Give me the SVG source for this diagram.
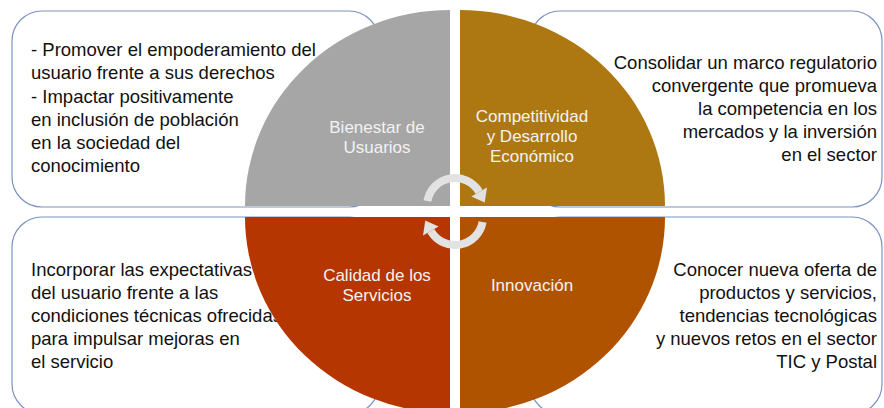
<svg xmlns="http://www.w3.org/2000/svg" width="884" height="408" viewBox="0 0 884 408">
  <style>
    .box { fill: #ffffff; stroke: #7b93bf; stroke-width: 1.2; }
    .txt { font-family: "Liberation Sans", Arial, sans-serif; font-size: 18.5px; fill: #111111; }
    .end { text-anchor: end; }
    .lbl { font-family: "Liberation Sans", Arial, sans-serif; font-size: 17px; fill: #f2f2f2; text-anchor: middle; }
    .arc { fill: none; stroke: #e2e2e2; stroke-width: 8; }
    .head { fill: #e2e2e2; }
  </style>
  <rect x="0" y="0" width="884" height="408" fill="#ffffff"/>

  <g id="box-bienestar">
    <rect class="box" x="12" y="11" width="367" height="196" rx="30" ry="30"/>
    <text class="txt" x="31" y="56">- Promover el empoderamiento del</text>
    <text class="txt" x="31" y="79">usuario frente a sus derechos</text>
    <text class="txt" x="31" y="103">- Impactar positivamente</text>
    <text class="txt" x="31" y="126">en inclusión de población</text>
    <text class="txt" x="31" y="149">en la sociedad del</text>
    <text class="txt" x="31" y="172">conocimiento</text>
  </g>

  <g id="box-competitividad">
    <rect class="box" x="530" y="11" width="352" height="196" rx="30" ry="30"/>
    <text class="txt end" x="877" y="69">Consolidar un marco regulatorio</text>
    <text class="txt end" x="877" y="92">convergente que promueva</text>
    <text class="txt end" x="877" y="115">la competencia en los</text>
    <text class="txt end" x="877" y="138">mercados y la inversión</text>
    <text class="txt end" x="877" y="161">en el sector</text>
  </g>

  <g id="box-calidad">
    <rect class="box" x="12" y="217" width="367" height="197" rx="30" ry="30"/>
    <text class="txt" x="31" y="276">Incorporar las expectativas</text>
    <text class="txt" x="31" y="299">del usuario frente a las</text>
    <text class="txt" x="31" y="322">condiciones técnicas ofrecidas</text>
    <text class="txt" x="31" y="345">para impulsar mejoras en</text>
    <text class="txt" x="31" y="368">el servicio</text>
  </g>

  <g id="box-innovacion">
    <rect class="box" x="530" y="217" width="352" height="197" rx="30" ry="30"/>
    <text class="txt end" x="877" y="276">Conocer nueva oferta de</text>
    <text class="txt end" x="877" y="299">productos y servicios,</text>
    <text class="txt end" x="877" y="322">tendencias tecnológicas</text>
    <text class="txt end" x="877" y="345">y nuevos retos en el sector</text>
    <text class="txt end" x="877" y="368">TIC y Postal</text>
  </g>

  <g id="q-bienestar">
    <path d="M450,206 L245,206 A205,196 0 0 1 450,10 Z" fill="#a6a6a6"/>
    <text class="lbl" x="377" y="133">Bienestar de</text>
    <text class="lbl" x="377" y="153">Usuarios</text>
  </g>
  <g id="q-competitividad">
    <path d="M460,206 L460,10 A205,196 0 0 1 665,206 Z" fill="#ad7812"/>
    <text class="lbl" x="532" y="122">Competitividad</text>
    <text class="lbl" x="532" y="142">y Desarrollo</text>
    <text class="lbl" x="532" y="162">Económico</text>
  </g>
  <g id="q-calidad">
    <path d="M450,217 L450,413 A205,196 0 0 1 245,217 Z" fill="#b53600"/>
    <text class="lbl" x="377" y="281">Calidad de los</text>
    <text class="lbl" x="377" y="301">Servicios</text>
  </g>
  <g id="q-innovacion">
    <path d="M460,217 L665,217 A205,196 0 0 1 460,413 Z" fill="#b05300"/>
    <text class="lbl" x="532" y="291">Innovación</text>
  </g>

  <g id="connectors">
    <g id="arrow-top">
      <path class="arc" d="M427.4,201 A28,28 0 0 1 479.2,192"/>
      <polygon class="head" points="487,187.5 471.4,196.5 484.7,202.5"/>
    </g>
    <g id="arrow-bottom" transform="rotate(180 455 211.5)">
      <path class="arc" d="M427.4,201 A28,28 0 0 1 479.2,192"/>
      <polygon class="head" points="487,187.5 471.4,196.5 484.7,202.5"/>
    </g>
  </g>
</svg>
